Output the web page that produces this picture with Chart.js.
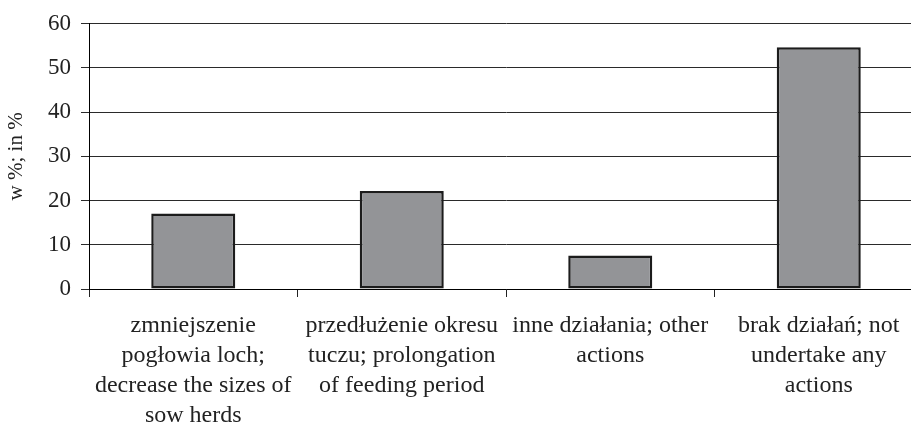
<!DOCTYPE html>
<html>
<head>
<meta charset="utf-8">
<script src="https://cdn.jsdelivr.net/npm/chart.js@4"></script>
<style>
  body { margin: 0; overflow: hidden; background: #fff; }
</style>
</head>
<body>
<canvas id="chart" width="925" height="427"></canvas>
<script>
// Data
const categories = [
    ["zmniejszenie", "pogłowia loch;", "decrease the sizes of", "sow herds"],
    ["przedłużenie okresu", "tuczu; prolongation", "of feeding period"],
    ["inne działania; other", "actions"],
    ["brak działań; not", "undertake any", "actions"]
];
const shares = [17.1, 22.2, 7.6, 54.7];
const yTicks = [0, 10, 20, 30, 40, 50, 60];
const yTitle = "w %; in %";

const serif = "'Liberation Serif', 'Times New Roman', serif";

const ctx = document.getElementById('chart').getContext('2d');
const chart = new Chart(ctx, {
    type: 'bar',
    data: {
        labels: categories,
        datasets: [{
            data: shares,
            backgroundColor: '#939497',
            borderColor: '#1c1c1c',
            borderWidth: 2.5,
            borderSkipped: false,
            barPercentage: 0.403,
            categoryPercentage: 1
        }]
    },
    options: {
        responsive: false,
        animation: false,
        layout: { padding: { top: 12, right: 2, bottom: 0, left: 0 } },
        plugins: {
            legend: { display: false },
            tooltip: { enabled: false }
        },
        scales: {
            x: {
                grid: {
                    offset: true,
                    drawOnChartArea: false,
                    color: '#222',
                    tickLength: 8
                },
                border: { color: '#000', width: 1 },
                ticks: {
                    autoSkip: false,
                    maxRotation: 0,
                    padding: 14,
                    color: '#222',
                    font: { family: serif, size: 24, lineHeight: 1.25 }
                },
                afterFit: function(scale) { scale.height = 138; }
            },
            y: {
                min: yTicks[0],
                max: yTicks[yTicks.length - 1],
                grid: { color: '#2a2a2a', tickLength: 8 },
                border: { color: '#000', width: 1 },
                afterBuildTicks: function(scale) {
                    scale.ticks = yTicks.map(v => ({ value: v }));
                },
                ticks: {
                    padding: 10,
                    color: '#222',
                    font: { family: serif, size: 23 }
                },
                title: {
                    display: true,
                    text: yTitle,
                    color: '#222',
                    padding: { top: 4, bottom: 0 },
                    font: { family: serif, size: 21 }
                },
                afterFit: function(scale) { scale.width = 89; }
            }
        }
    }
});
</script>
</body>
</html>
